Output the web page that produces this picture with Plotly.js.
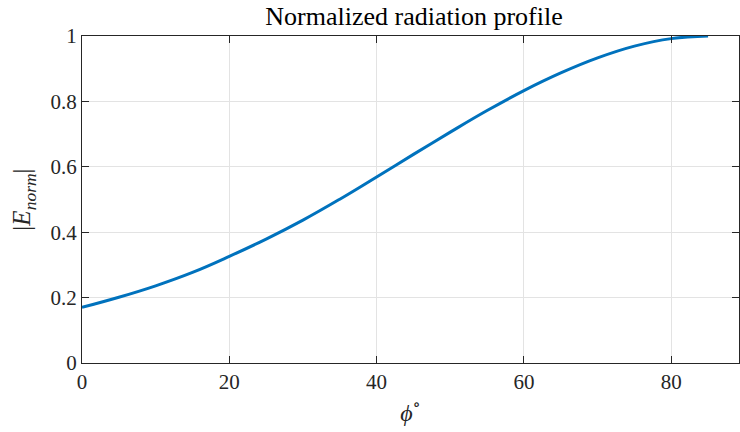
<!DOCTYPE html>
<html>
<head>
<meta charset="utf-8">
<script src="https://cdn.plot.ly/plotly-3.0.1.min.js"></script>
<style>html,body{margin:0;padding:0;background:#fff;}#chart{width:740px;height:432px;}</style>
</head>
<body>
<div id="chart"></div>
<script>
// Angle phi (degrees) and normalized field magnitude
const phiDeg = [0, 5, 10, 15, 20, 25, 30, 35, 40, 45, 50, 55, 60, 65, 70, 75, 80, 85];
const eNorm  = [0.170, 0.201, 0.236, 0.277, 0.326, 0.379, 0.437, 0.501, 0.569, 0.638, 0.706, 0.772, 0.833, 0.887, 0.933, 0.969, 0.992, 1.000];
const xTicks = [0, 20, 40, 60, 80];
const yTicks = [0, 0.2, 0.4, 0.6, 0.8, 1];

const fontFam = 'Liberation Serif, DejaVu Serif, serif';
const axisColor = '#262626';
const gridColor = '#e3e3e3';

const trace = {
  x: phiDeg, y: eNorm, type: 'scatter', mode: 'lines',
  line: {color: '#0072BD', width: 3, shape: 'spline', smoothing: 1.2},
  hoverinfo: 'skip'
};

const layout = {
  width: 740, height: 432,
  margin: {l: 82, r: 1, t: 36, b: 69, pad: 0},
  paper_bgcolor: '#ffffff', plot_bgcolor: '#ffffff',
  showlegend: false,
  font: {family: fontFam, color: axisColor, size: 21},
  title: {
    text: 'Normalized radiation profile',
    font: {family: fontFam, size: 26, color: '#000000'},
    x: 414/740, xref: 'container', xanchor: 'center',
    y: 1 - 16/432, yref: 'container', yanchor: 'middle'
  },
  xaxis: {
    range: [0, 89.2], tickvals: xTicks, ticktext: xTicks.map(String),
    showline: true, linecolor: axisColor, linewidth: 1, mirror: 'allticks',
    ticks: 'inside', ticklen: 7, tickwidth: 1, tickcolor: axisColor,
    showgrid: true, gridcolor: gridColor, gridwidth: 1, zeroline: false,
    tickfont: {family: fontFam, size: 21, color: axisColor},
    title: {text: '<i>ϕ</i><sup>∘</sup>', font: {family: fontFam, size: 24, color: axisColor}, standoff: 10},
    fixedrange: true
  },
  yaxis: {
    range: [0, 1], tickvals: yTicks, ticktext: yTicks.map(v => String(v)),
    showline: true, linecolor: axisColor, linewidth: 1, mirror: 'allticks',
    ticks: 'inside', ticklen: 7, tickwidth: 1, tickcolor: axisColor,
    showgrid: true, gridcolor: gridColor, gridwidth: 1, zeroline: false,
    tickfont: {family: fontFam, size: 21, color: axisColor},
    title: {text: '|<i>E</i><sub><i>norm</i></sub>|', font: {family: fontFam, size: 25, color: axisColor}, standoff: 12},
    fixedrange: true
  }
};

Plotly.newPlot('chart', [trace], layout, {staticPlot: true, displayModeBar: false});
</script>
</body>
</html>
